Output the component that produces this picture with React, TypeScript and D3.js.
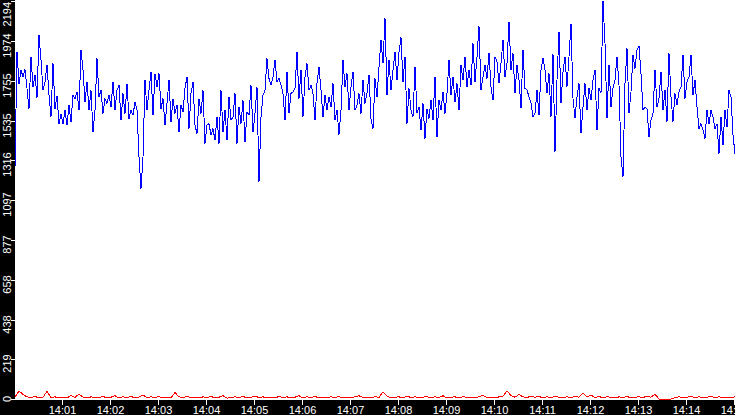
import React, { useEffect, useRef } from "react";
import * as d3 from "d3";

// sampling: blue every 2.5 s, red every 5 s, starting at 14:00:00
const startTime = new Date(2024, 0, 1, 14, 0, 0);
const endTime = new Date(2024, 0, 1, 14, 15, 0);
const blueStepSec = 2.5;
const redStepSec = 5;
const yMax = 2194;

const blueValues = [
  1279, 1914, 1739, 1813, 1776, 1816, 1712, 1601, 1886, 1721,
  1785, 1662, 2006, 1868, 1702, 1748, 1840, 1675, 1555, 1850,
  1601, 1669, 1518, 1570, 1515, 1592, 1509, 1620, 1528, 1675,
  1656, 1693, 1592, 1923, 1813, 1638, 1748, 1592, 1702, 1472,
  1592, 1877, 1666, 1702, 1574, 1656, 1629, 1675, 1610, 1748,
  1592, 1702, 1730, 1537, 1684, 1574, 1736, 1546, 1592, 1564,

  1638, 1592, 1334, 1160, 1334, 1758, 1592, 1702, 1804, 1564,
  1794, 1721, 1794, 1601, 1656, 1509, 1629, 1758, 1528, 1656,
  1574, 1620, 1472, 1620, 1583, 1712, 1776, 1491, 1684, 1748,
  1509, 1463, 1656, 1574, 1702, 1408, 1509, 1518, 1454, 1491,
  1426, 1555, 1408, 1702, 1472, 1592, 1426, 1666, 1537, 1555,
  1684, 1408, 1610, 1518, 1647, 1417, 1583, 1564, 1730, 1472,

  1574, 1721, 1196, 1555, 1675, 1702, 1877, 1767, 1730, 1776,
  1868, 1748, 1767, 1730, 1684, 1537, 1804, 1574, 1684, 1693,
  1712, 1914, 1656, 1813, 1555, 1776, 1850, 1702, 1730, 1684,
  1537, 1739, 1831, 1702, 1555, 1675, 1592, 1666, 1610, 1739,
  1537, 1592, 1458, 1592, 1868, 1721, 1794, 1592, 1721, 1804,
  1592, 1620, 1684, 1574, 1758, 1629, 1684, 1785, 1546, 1491,

  1767, 1666, 1831, 1978, 1850, 2098, 1675, 1868, 1702, 1813,
  1914, 1758, 1914, 1993, 1748, 1886, 1518, 1712, 1592, 1555,
  1831, 1574, 1610, 1482, 1629, 1436, 1601, 1546, 1647, 1537,
  1776, 1445, 1647, 1592, 1693, 1574, 1684, 1868, 1675, 1776,
  1638, 1739, 1592, 1840, 1758, 1886, 1721, 1813, 1730, 1960,
  1748, 1886, 2056, 1702, 1776, 1840, 1767, 1908, 1721, 1647,

  1887, 1860, 1740, 1850, 1979, 1777, 1850, 2080, 1814, 1906,
  1685, 1841, 1758, 1602, 1924, 1712, 1703, 1666, 1630, 1556,
  1574, 1703, 1565, 1814, 1878, 1814, 1685, 1795, 1556, 1902,
  1363, 1758, 2025, 1630, 1804, 1887, 1722, 1887, 2068, 1657,
  1547, 1666, 1740, 1464, 1611, 1740, 1593, 1712, 1648, 1758,
  1814, 1482, 1712, 1685, 2194, 1961, 1547, 1841, 1611, 1712,

  1758, 1886, 1730, 1334, 1224, 1739, 1932, 1574, 1693, 1896,
  1822, 1923, 1945, 1794, 1592, 1610, 1601, 1445, 1537, 1574,
  1816, 1610, 1656, 1804, 1592, 1702, 1528, 1905, 1666, 1528,
  1684, 1620, 1693, 1721, 1896, 1656, 1748, 1776, 1896, 1675,
  1758, 1610, 1491, 1518, 1482, 1436, 1592, 1518, 1592, 1555,
  1491, 1518, 1353, 1555, 1399, 1592, 1500, 1702, 1666, 1454,
  1353,
];

const redValues = [
  10, 45, 25, 12, 8, 15, 5, 10, 42, 8,
  12, 5, 10, 6, 20, 8, 28, 10, 5, 12,
  6, 8, 15, 5, 10, 18, 6, 12, 8, 15,
  5, 10, 22, 6, 12, 8, 14, 5, 10, 6,
  35, 12, 8, 15, 6, 10, 5, 12, 8, 14,
  6, 10, 18, 5, 8, 12, 6, 15, 5, 10,
  16, 8, 12, 5, 10, 6, 14, 8, 12, 5,
  10, 18, 6, 12, 8, 15, 5, 10, 6, 12,
  8, 14, 5, 10, 6, 12, 18, 8, 10, 5,
  14, 8, 40, 15, 6, 10, 12, 5, 16, 8,
  12, 6, 10, 14, 5, 12, 8, 18, 6, 10,
  12, 5, 14, 8, 10, 6, 12, 20, 8, 10,
  5, 12, 15, 45, 18, 10, 25, 12, 8, 16,
  10, 14, 6, 12, 8, 15, 10, 6, 12, 8,
  14, 10, 32, 12, 22, 8, 14, 6, 12, 10,
  5, 12, 8, 14, 6, 10, 12, 8, 16, 10,
  26, 0, 0, 0, 0, 8, 12, 6, 10, 14,
  8, 12, 6, 10, 14, 8, 12, 6, 10, 8,
  12,
];

const yTickLabels = ["0", "219", "438", "658", "877", "1097", "1316", "1535", "1755", "1974", "2194"];
const xTickLabels = [
  "14:01", "14:02", "14:03", "14:04", "14:05", "14:06", "14:07", "14:08",
  "14:09", "14:10", "14:11", "14:12", "14:13", "14:14", "14:15",
];

type Pt = { t: Date; v: number };

export default function App() {
  const svgRef = useRef<SVGSVGElement>(null);

  useEffect(() => {
    const width = 735;
    const height = 415;
    const left = 15;
    const bottom = 400;

    const svg = d3.select(svgRef.current);
    svg.selectAll("*").remove();

    const x = d3.scaleTime().domain([startTime, endTime]).range([left, width]);
    const y = d3.scaleLinear().domain([0, yMax]).range([bottom - 1, 1]);

    svg.append("rect").attr("width", width).attr("height", height).attr("fill", "#ffffff");

    const toPts = (vals: number[], step: number): Pt[] =>
      vals.map((v, i) => ({ t: new Date(startTime.getTime() + i * step * 1000), v }));

    const line = d3
      .line<Pt>()
      .x(d => x(d.t))
      .y(d => y(d.v));

    svg
      .append("path")
      .datum(toPts(blueValues, blueStepSec))
      .attr("fill", "none")
      .attr("stroke", "#0000ff")
      .attr("stroke-width", 1)
      .attr("shape-rendering", "crispEdges")
      .attr("d", line);

    svg
      .append("path")
      .datum(toPts(redValues, redStepSec))
      .attr("fill", "none")
      .attr("stroke", "#ff0000")
      .attr("stroke-width", 1)
      .attr("shape-rendering", "crispEdges")
      .attr("d", line);

    // black axis bands
    svg.append("rect").attr("x", 0).attr("y", 0).attr("width", left).attr("height", height).attr("fill", "#000");
    svg.append("rect").attr("x", 0).attr("y", bottom).attr("width", width).attr("height", height - bottom).attr("fill", "#000");

    const font = "'Liberation Sans', Arial, sans-serif";

    // y axis
    yTickLabels.forEach(label => {
      const ty = Math.round(y(+label)) + 0.5;
      svg
        .append("line")
        .attr("x1", 11)
        .attr("x2", left)
        .attr("y1", ty)
        .attr("y2", ty)
        .attr("stroke", "#fff")
        .attr("shape-rendering", "crispEdges");
      const txt = svg
        .append("text")
        .attr("text-anchor", "middle")
        .attr("fill", "#fff")
        .style("font-family", font)
        .style("font-size", "11px")
        .text(label);
      const half = ((txt.node() as SVGTextElement).getComputedTextLength() || label.length * 6) / 2;
      const cy = Math.min(Math.max(ty + 4, 2 + half), bottom + 2 - half);
      txt.attr("transform", `translate(10.5,${cy}) rotate(-90)`);
    });

    // x axis
    xTickLabels.forEach(label => {
      const [h, m] = label.split(":").map(Number);
      const tx = Math.round(x(new Date(2024, 0, 1, h, m, 0))) - 0.5;
      svg
        .append("line")
        .attr("x1", tx)
        .attr("x2", tx)
        .attr("y1", bottom)
        .attr("y2", bottom + 5)
        .attr("stroke", "#fff")
        .attr("shape-rendering", "crispEdges");
      svg
        .append("text")
        .attr("x", tx)
        .attr("y", 414)
        .attr("text-anchor", "middle")
        .attr("fill", "#fff")
        .style("font-family", font)
        .style("font-size", "11px")
        .text(label);
    });
  }, []);

  return (
    <svg
      ref={svgRef}
      width={735}
      height={415}
      style={{ position: "fixed", left: 0, top: 0, display: "block" }}
    />
  );
}
